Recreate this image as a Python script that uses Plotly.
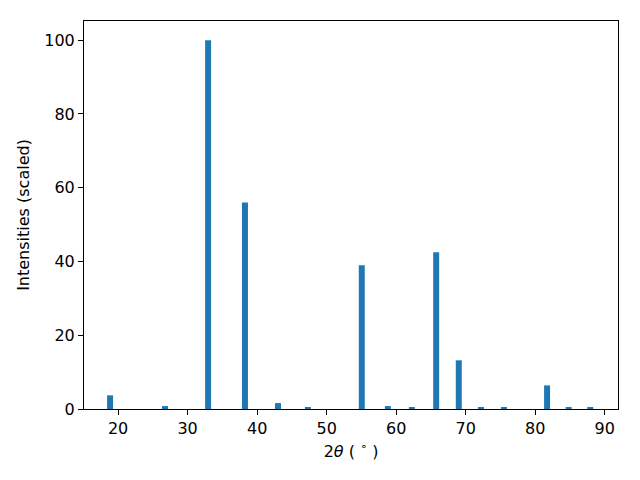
import plotly.graph_objects as go

two_theta = [18.85, 26.75, 32.95, 38.25, 43.0, 47.3, 55.05, 58.8, 62.25, 65.75, 69.0, 72.2, 75.5, 81.7, 84.8, 87.9]
intensity = [3.7, 0.8, 100.0, 56.0, 1.6, 0.3, 39.0, 0.8, 0.3, 42.5, 13.2, 0.3, 0.3, 6.4, 0.3, 0.3]
x_ticks = [20, 30, 40, 50, 60, 70, 80, 90]
y_ticks = [0, 20, 40, 60, 80, 100]

fig = go.Figure(go.Bar(x=two_theta, y=intensity, width=0.86, marker=dict(color="#1f77b4", line=dict(width=0))))

axis_common = dict(showline=True, linecolor="black", linewidth=1, mirror=True,
                   ticks="outside", ticklen=5, tickwidth=1, tickcolor="black",
                   showgrid=False, zeroline=False,
                   tickfont=dict(family="DejaVu Sans", size=16, color="black"))

fig.update_layout(
    width=632, height=472,
    margin=dict(l=76, r=22, t=13, b=71),
    plot_bgcolor="white", paper_bgcolor="white",
    showlegend=False,
    xaxis=dict(range=[15.1, 91.9], tickvals=x_ticks,
               title=dict(text="2<i>θ</i> ( <sup>∘</sup> )", font=dict(family="DejaVu Sans", size=16, color="black"), standoff=8),
               **axis_common),
    yaxis=dict(range=[0, 105.2], tickvals=y_ticks,
               title=dict(text="Intensities (scaled)", font=dict(family="DejaVu Sans", size=16, color="black"), standoff=10),
               **axis_common),
)

fig.write_html("out.html")
